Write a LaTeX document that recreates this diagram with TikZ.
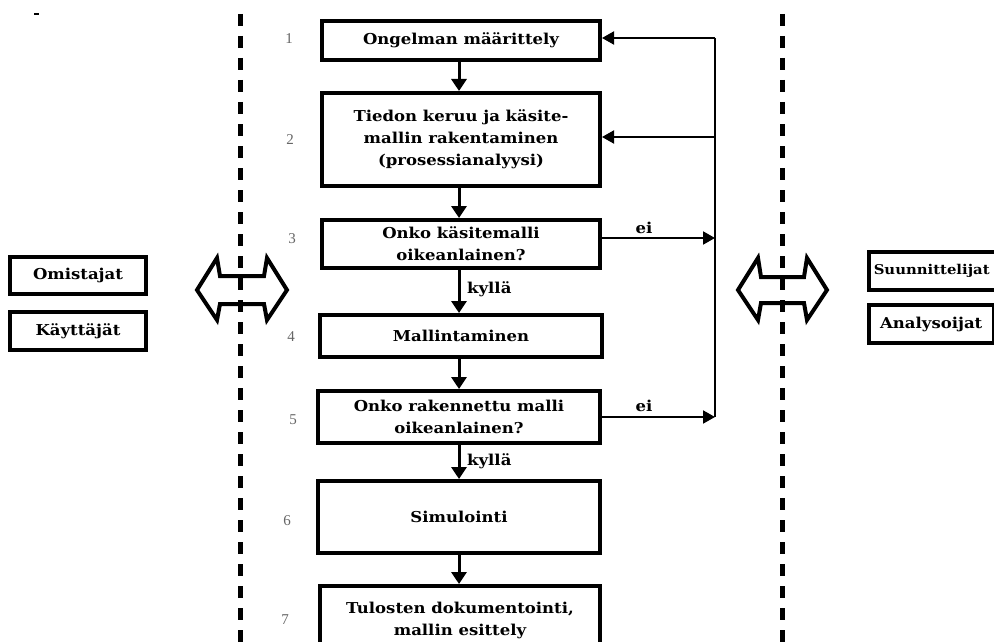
\documentclass[tikz,border=0pt]{standalone}
\usepackage{fontspec}
\setmainfont{DejaVu Serif}[FakeStretch=1.1]
\newfontfamily\numfont{Liberation Serif}
\usetikzlibrary{arrows.meta}
\tikzset{
  stepbox/.style={draw=black, line width=4pt, fill=white, inner sep=0pt, align=center,
    font=\fontsize{15}{22}\selectfont\bfseries},
  sidebox/.style={draw=black, line width=3.5pt, fill=white, inner sep=0pt, align=center,
    font=\fontsize{15}{22}\selectfont\bfseries},
  flow/.style={line width=3pt, -{Triangle[length=12pt,width=15pt]}},
  fb/.style={line width=2pt},
  fbarrow/.style={line width=2pt, -{Triangle[length=12pt,width=13pt]}},
  lbl/.style={font=\fontsize{15}{17}\selectfont\bfseries, inner sep=0pt},
  num/.style={font=\numfont\fontsize{15}{17}\selectfont, text=black!60, inner sep=0pt},
  sep/.style={line width=5pt, dash pattern=on 12pt off 10pt},
  dblarrow/.style={line width=4pt, line join=miter},
}
\begin{document}
\begin{tikzpicture}[x=1pt,y=-1pt]
\useasboundingbox (0,0) rectangle (994,642);
\clip (0,0) rectangle (994,642);
\fill[white] (0,0) rectangle (994,642);

% separators
\draw[sep] (240,14) -- (240,642);
\draw[sep] (782,14) -- (782,642);

% stray mark
\draw[line width=1.5pt] (34,14) -- (39,14);

% double arrows
\draw[dblarrow] (197,290) -- (217,258) -- (220,276) -- (264,276) -- (267,258) -- (287,290)
  -- (267,320) -- (264,304) -- (220,304) -- (217,320) -- cycle;
\draw[dblarrow] (738,290) -- (758,258) -- (761,277) -- (804,277) -- (807,258) -- (827,290)
  -- (807,320) -- (804,303) -- (761,303) -- (758,320) -- cycle;

% steps
\node[stepbox, minimum width=278pt, minimum height=39pt] (b1) at (461,40.5) {Ongelman määrittely};
\node[stepbox, minimum width=278pt, minimum height=93pt] (b2) at (461,139.5) {Tiedon keruu ja käsite-\\mallin rakentaminen\\(prosessianalyysi)};
\node[stepbox, minimum width=278pt, minimum height=48pt] (b3) at (461,244) {Onko käsitemalli\\oikeanlainen?};
\node[stepbox, minimum width=282pt, minimum height=42pt] (b4) at (461,336) {Mallintaminen};
\node[stepbox, minimum width=282pt, minimum height=52pt] (b5) at (459,417) {Onko rakennettu malli\\oikeanlainen?};
\node[stepbox, minimum width=282pt, minimum height=72pt] (b6) at (459,517) {Simulointi};
\node[stepbox, minimum width=280pt, minimum height=68pt] (b7) at (460,620) {Tulosten dokumentointi,\\mallin esittely};

% numbers
\node[num] (n1) at (289,39) {1};
\node[num] (n2) at (290,140) {2};
\node[num] (n3) at (292,239) {3};
\node[num] (n4) at (291,337) {4};
\node[num] (n5) at (293,420) {5};
\node[num] (n6) at (287,521) {6};
\node[num] (n7) at (285,620) {7};

% flow arrows
\draw[flow] (b1.south -| 459,0) -- (b2.north -| 459,0);
\draw[flow] (b2.south -| 459,0) -- (b3.north -| 459,0);
\draw[flow] (b3.south -| 459,0) -- (b4.north -| 459,0);
\draw[flow] (b4.south -| 459,0) -- (b5.north -| 459,0);
\draw[flow] (b5.south -| 459,0) -- (b6.north -| 459,0);
\draw[flow] (b6.south -| 459,0) -- (b7.north -| 459,0);
\node[lbl, anchor=west] (k1) at (467,289) {kyllä};
\node[lbl, anchor=west] (k2) at (467,461) {kyllä};

% feedback
\coordinate (t1) at (715,38);
\coordinate (t2) at (715,137);
\coordinate (t3) at (715,238);
\coordinate (t5) at (715,417);
\draw[fb] (t1) -- (t5);
\draw[fbarrow] (t1) -- (t1 -| b1.east);
\draw[fbarrow] (t2) -- (t2 -| b2.east);
\draw[fbarrow] (t3 -| b3.east) -- (t3);
\draw[fbarrow] (t5 -| b5.east) -- (t5);
\node[lbl] (e1) at (644,228) {ei};
\node[lbl] (e2) at (644,406) {ei};

% side boxes
\node[sidebox, minimum width=136pt, minimum height=37pt] (o) at (78,275.5) {Omistajat};
\node[sidebox, minimum width=136pt, minimum height=38pt] (k) at (78,331) {Käyttäjät};
\node[sidebox, minimum width=142pt, minimum height=38pt, anchor=west, text width=134pt, align=left,
  font=\fontsize{13.5}{20}\selectfont\bfseries] (s) at (867,271) {\hspace*{1pt}Suunnittelijat};
\node[sidebox, minimum width=125pt, minimum height=38pt, anchor=west] (a) at (867,324) {Analysoijat};
\end{tikzpicture}
\end{document}
